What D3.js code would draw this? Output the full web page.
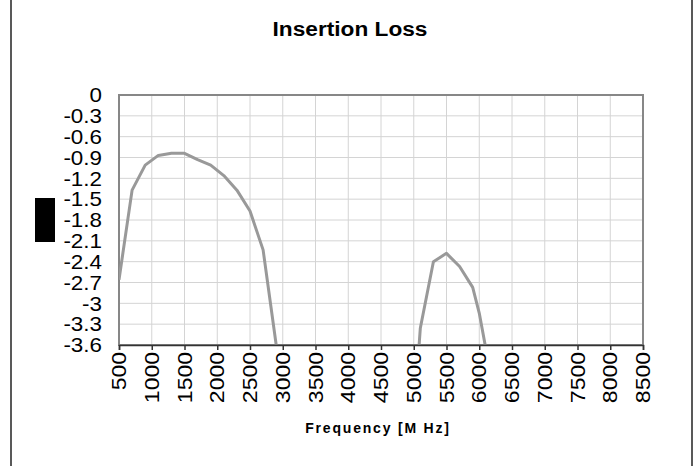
<!DOCTYPE html>
<html>
<head>
<meta charset="utf-8">
<style>
  body { margin: 0; background: #fff; }
  svg { display: block; font-family: "Liberation Sans", Arial, sans-serif; }
</style>
</head>
<body>
<div id="chart"></div>
<script src="https://cdn.jsdelivr.net/npm/d3@7"></script>
<script>
// values (MHz, dB); points past the axis floor get clipped
const freqs = [500, 700, 900, 1100, 1300, 1500, 1700, 1900, 2100, 2300, 2500, 2700, 2900, 3100,
               4900, 5100, 5300, 5500, 5700, 5900, 6000, 6100, 6300];
const loss  = [-2.66, -1.37, -1.01, -0.87, -0.84, -0.84, -0.93, -1.01, -1.16, -1.37, -1.67, -2.23, -3.6, -6,
               -6, -3.36, -2.4, -2.28, -2.47, -2.77, -3.14, -3.65, -6];
const xTicks = d3.range(500, 8501, 500);
const yTicks = [0, -0.3, -0.6, -0.9, -1.2, -1.5, -1.8, -2.1, -2.4, -2.7, -3, -3.3, -3.6];

const W = 693, H = 466;
const plot = { left: 119, right: 643, top: 95, bottom: 345 };

const svg = d3.select('#chart').append('svg')
  .attr('width', W).attr('height', H);

// outer chart frame (only the sides show in the shot)
svg.append('line').attr('x1', 11).attr('x2', 11).attr('y1', 0).attr('y2', H)
  .attr('stroke', '#222').attr('stroke-width', 1.5);
svg.append('line').attr('x1', 692).attr('x2', 692).attr('y1', 0).attr('y2', H)
  .attr('stroke', '#222').attr('stroke-width', 1.5);

const x = d3.scaleLinear().domain([500, 8500]).range([plot.left, plot.right]);
const y = d3.scaleLinear().domain([-3.6, 0]).range([plot.bottom, plot.top]);

// grid
svg.append('g').selectAll('line').data(xTicks).join('line')
  .attr('x1', d => x(d)).attr('x2', d => x(d))
  .attr('y1', plot.top).attr('y2', plot.bottom)
  .attr('stroke', '#d4d4d4').attr('stroke-width', 1);
svg.append('g').selectAll('line').data(yTicks).join('line')
  .attr('x1', plot.left).attr('x2', plot.right)
  .attr('y1', d => y(d)).attr('y2', d => y(d))
  .attr('stroke', '#d4d4d4').attr('stroke-width', 1);

// plot border
svg.append('rect')
  .attr('x', plot.left).attr('y', plot.top)
  .attr('width', plot.right - plot.left).attr('height', plot.bottom - plot.top)
  .attr('fill', 'none').attr('stroke', '#878787').attr('stroke-width', 2);

// data line, clipped to plot area
svg.append('clipPath').attr('id', 'clip').append('rect')
  .attr('x', plot.left).attr('y', plot.top)
  .attr('width', plot.right - plot.left).attr('height', plot.bottom - plot.top);

const line = d3.line()
  .x((d, i) => x(freqs[i]))
  .y(d => y(d));

svg.append('path')
  .attr('clip-path', 'url(#clip)')
  .attr('d', line(loss))
  .attr('fill', 'none')
  .attr('stroke', '#999999')
  .attr('stroke-width', 3)
  .attr('stroke-linejoin', 'round');

// x axis
const xAxis = d3.axisBottom(x).tickValues(xTicks).tickSize(5).tickFormat('');
const gx = svg.append('g').attr('transform', `translate(0,${plot.bottom})`).call(xAxis);
gx.select('.domain').attr('stroke', '#333').attr('stroke-width', 1.5);
gx.selectAll('.tick line').attr('stroke', '#333').attr('stroke-width', 1.5);

svg.append('g').selectAll('text').data(xTicks).join('text')
  .attr('transform', d => `translate(${x(d)},352) rotate(-90) scale(1.15,1)`)
  .attr('text-anchor', 'end')
  .attr('dy', '0.36em')
  .attr('font-size', 20)
  .attr('fill', '#000')
  .text(d => d);

// y labels, plain hyphen minus like the original
svg.append('g').selectAll('text').data(yTicks).join('text')
  .attr('transform', d => `translate(102,${y(d)}) scale(1.12,1)`)
  .attr('text-anchor', 'end')
  .attr('dy', '0.36em')
  .attr('font-size', 20)
  .attr('fill', '#000')
  .text(d => String(d));

// title
svg.append('text')
  .attr('transform', 'translate(350,36) scale(1.08,1)')
  .attr('text-anchor', 'middle')
  .attr('font-size', 21).attr('font-weight', 'bold')
  .text('Insertion Loss');

// x axis title
svg.append('text')
  .attr('x', 378).attr('y', 433)
  .attr('text-anchor', 'middle')
  .attr('font-size', 14).attr('font-weight', 'bold')
  .attr('letter-spacing', 1.8)
  .text('Frequency [M Hz]');

// the black block left of the y labels
svg.append('rect')
  .attr('x', 35).attr('y', 198).attr('width', 20).attr('height', 44)
  .attr('fill', '#000');
</script>
</body>
</html>
